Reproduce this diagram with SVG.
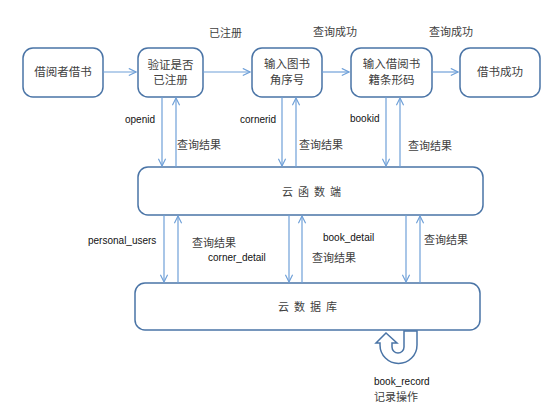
<svg xmlns="http://www.w3.org/2000/svg" width="554" height="417" viewBox="0 0 554 417">
<defs>
<style>
.box{fill:#fff;stroke:#4a74a6;stroke-width:1.5}
.cn{font-family:"Noto Sans CJK SC","Noto Sans",sans-serif;font-size:11px;fill:#404040}
.bt{font-family:"Noto Sans CJK SC","Noto Sans",sans-serif;font-size:11.5px;fill:#404040;text-anchor:middle}
.en{font-family:"Liberation Sans","DejaVu Sans",sans-serif;font-size:10px;fill:#111}
.ln{stroke:#6fa0d8;stroke-width:1.2;fill:none}
</style>
<marker id="ah" viewBox="0 0 10 10" refX="9" refY="5" markerWidth="9" markerHeight="9" markerUnits="userSpaceOnUse" orient="auto">
<path d="M1,1 L9,5 L1,9" fill="none" stroke="#6fa0d8" stroke-width="1.3"/>
</marker>
</defs>
<rect width="554" height="417" fill="#fff"/>
<g id="n1"><rect class="box" x="23" y="48" width="80" height="49" rx="10"/><text class="bt" x="63" y="76">借阅者借书</text></g>
<g id="n2"><rect class="box" x="138" y="48" width="65" height="49" rx="10"/><text class="bt" x="170.5" y="69">验证是否</text><text class="bt" x="170.5" y="84">已注册</text></g>
<g id="n3"><rect class="box" x="252" y="48" width="70" height="49" rx="10"/><text class="bt" x="287" y="68">输入图书</text><text class="bt" x="287" y="84">角序号</text></g>
<g id="n4"><rect class="box" x="351" y="48" width="81" height="49" rx="10"/><text class="bt" x="391.5" y="68">输入借阅书</text><text class="bt" x="391.5" y="84">籍条形码</text></g>
<g id="n5"><rect class="box" x="460" y="48" width="80" height="49" rx="10"/><text class="bt" x="500" y="76">借书成功</text></g>
<g id="cloudfn"><rect class="box" x="138" y="167" width="345" height="48" rx="10"/><text class="cn" x="282 298 314 330" y="196">云函数端</text></g>
<g id="clouddb"><rect class="box" x="135" y="283" width="345" height="47" rx="10"/><text class="cn" x="278 294 310 326" y="311">云数据库</text></g>
<g id="loop"><path class="box" d="M404 331 L404 347 A6 6 0 0 1 392 347 L392 343 L397 343 L386 333 L376 343 L380 343 L380 345 A18.5 18.5 0 0 0 417 345 L417 331 Z"/></g>
<g id="connectors">
<line class="ln" x1="103" y1="72" x2="136" y2="72" marker-end="url(#ah)"/>
<line class="ln" x1="203" y1="72" x2="250" y2="72" marker-end="url(#ah)"/>
<line class="ln" x1="322" y1="72" x2="349" y2="72" marker-end="url(#ah)"/>
<line class="ln" x1="432" y1="72" x2="458" y2="72" marker-end="url(#ah)"/>
<line class="ln" x1="162" y1="97" x2="162" y2="166" marker-end="url(#ah)"/>
<line class="ln" x1="176" y1="167" x2="176" y2="98" marker-end="url(#ah)"/>
<line class="ln" x1="282" y1="97" x2="282" y2="166" marker-end="url(#ah)"/>
<line class="ln" x1="296" y1="167" x2="296" y2="98" marker-end="url(#ah)"/>
<line class="ln" x1="386" y1="97" x2="386" y2="166" marker-end="url(#ah)"/>
<line class="ln" x1="400" y1="167" x2="400" y2="98" marker-end="url(#ah)"/>
<line class="ln" x1="164" y1="215" x2="164" y2="282" marker-end="url(#ah)"/>
<line class="ln" x1="178" y1="283" x2="178" y2="216" marker-end="url(#ah)"/>
<line class="ln" x1="289" y1="215" x2="289" y2="282" marker-end="url(#ah)"/>
<line class="ln" x1="302" y1="283" x2="302" y2="216" marker-end="url(#ah)"/>
<line class="ln" x1="406" y1="215" x2="406" y2="282" marker-end="url(#ah)"/>
<line class="ln" x1="420" y1="283" x2="420" y2="216" marker-end="url(#ah)"/>
</g>
<g id="labels">
<text class="cn" x="209" y="37">已注册</text>
<text class="cn" x="313" y="36">查询成功</text>
<text class="cn" x="429" y="36">查询成功</text>
<text class="en" x="125" y="123">openid</text>
<text class="en" x="240" y="123">cornerid</text>
<text class="en" x="350" y="122">bookid</text>
<text class="cn" x="177" y="149">查询结果</text>
<text class="cn" x="299" y="149">查询结果</text>
<text class="cn" x="408" y="150">查询结果</text>
<text class="en" x="88" y="244">personal_users</text>
<text class="cn" x="192" y="247">查询结果</text>
<text class="en" x="208" y="261">corner_detail</text>
<text class="en" x="323" y="241">book_detail</text>
<text class="cn" x="312" y="262">查询结果</text>
<text class="cn" x="424" y="244">查询结果</text>
<text class="en" x="374" y="385">book_record</text>
<text class="cn" x="374" y="401">记录操作</text>
</g>
</svg>
